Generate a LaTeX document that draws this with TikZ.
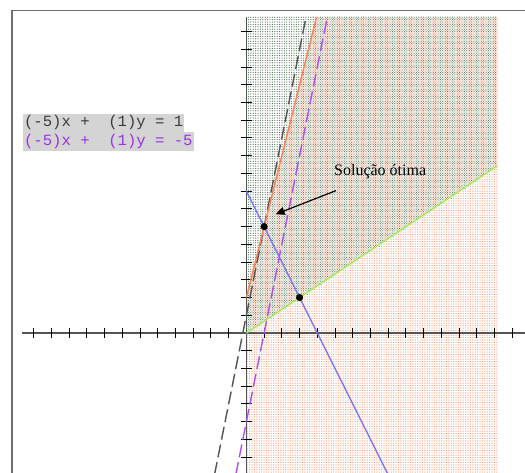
\documentclass[tikz,border=0pt]{standalone}
\usepackage{fontspec}
\setmainfont{Liberation Serif}
\setmonofont{Liberation Mono}
\usetikzlibrary{arrows.meta,patterns.meta}
\definecolor{lpframe}{HTML}{6E6E6E}
\definecolor{lpaxis}{HTML}{555555}
\definecolor{lporange}{HTML}{FF7F50}
\definecolor{lpblue}{HTML}{7474FF}
\definecolor{lpgreen}{HTML}{9AEE5A}
\definecolor{lpgray}{HTML}{555555}
\definecolor{lppurple}{HTML}{AE4CF0}
\definecolor{lptext}{HTML}{3C3C3C}
\definecolor{lpviolet}{HTML}{9A32E6}
\definecolor{lpbox}{HTML}{D4D4D4}
\definecolor{lpdotgreen}{HTML}{4A6E4E}
\definecolor{lpdotorange}{HTML}{FF8A5E}

\begin{document}
\begin{tikzpicture}[x=17.73bp, y=17.73bp,
    frameline/.style={draw=lpframe, line width=1.5bp},
    axisline/.style={draw=lpaxis, line width=1.6bp},
    tickmark/.style={draw=black, line width=1bp},
    orangedots/.style={pattern={Dots[distance=2.4bp, radius=0.55bp]}, pattern color=lpdotorange},
    greendots/.style={pattern={Dots[distance=2.4bp, radius=0.6bp, xshift=1.2bp, yshift=1.2bp]}, pattern color=lpdotgreen},
    constraint/.style={line width=1.4bp},
    dashedline/.style={line width=1.4bp, dash pattern=on 13bp off 5bp},
    optpoint/.style={fill=black},
    eqlabel/.style={fill=lpbox, anchor=north west, inner xsep=1.2bp, inner ysep=1bp,
                    text height=12bp, text depth=4.3bp,
                    font=\ttfamily\fontsize{15.6bp}{18bp}\selectfont},
    arrow/.style={-{Triangle[length=9bp, width=8bp]}, line width=1.2bp, draw=black}
]
\useasboundingbox (-13.897,-7.840) rectangle (15.713,18.782);
\clip (-13.897,-7.840) rectangle (15.713,18.782);

\draw[frameline] (-13.22,-9) |- (17,18.18);

\fill[orangedots] (0,-9) -- (0,2) -- (3.96,17.84) -- (14.17,17.84) -- (14.17,-9) -- cycle;
\fill[greendots] (0,0) -- (14.17,9.447) -- (14.17,17.84) -- (0,17.84) -- cycle;

\draw[axisline] (-12.63,0) -- (16,0);
\draw[axisline] (0,17.8) -- (0,-9);
\foreach \i in {-12,...,-1,1,2,...,15}
  \draw[tickmark] (\i,-0.26) -- (\i,0.26);
\foreach \j in {-8,...,-1,1,2,...,17}
  \draw[tickmark] (-0.31,\j) -- (0.31,\j);

\draw[dashedline, draw=lpgray] (-2,-9) -- (3.36,17.8);
\draw[dashedline, draw=lppurple] (-0.8,-9) -- (4.56,17.8);
\draw[constraint, draw=lporange] (0,2) -- (3.95,17.8);
\draw[constraint, draw=lpblue] (0,8) -- (8.5,-9);
\draw[constraint, draw=lpgreen] (0,0) -- (14.17,9.447);

\fill[optpoint] (1,6) circle (3.6bp);
\fill[optpoint] (3,2) circle (3.6bp);

\node[eqlabel, text=lptext] (eqone) at (-12.617,12.39) {(-5)x +\ \ (1)y = 1};
\node[eqlabel, text=lpviolet] (eqtwo) at (eqone.south west) {(-5)x +\ \ (1)y = -5};

\node[font=\fontsize{16bp}{19bp}\selectfont, anchor=base west, inner sep=0pt] (optlabel) at (4.94,8.91) {Solução ótima};
\coordinate (optpt) at (1.65,6.70);
\draw[arrow] ([shift={(0.11,-0.88)}]optlabel.base west) -- (optpt);
\end{tikzpicture}
\end{document}
